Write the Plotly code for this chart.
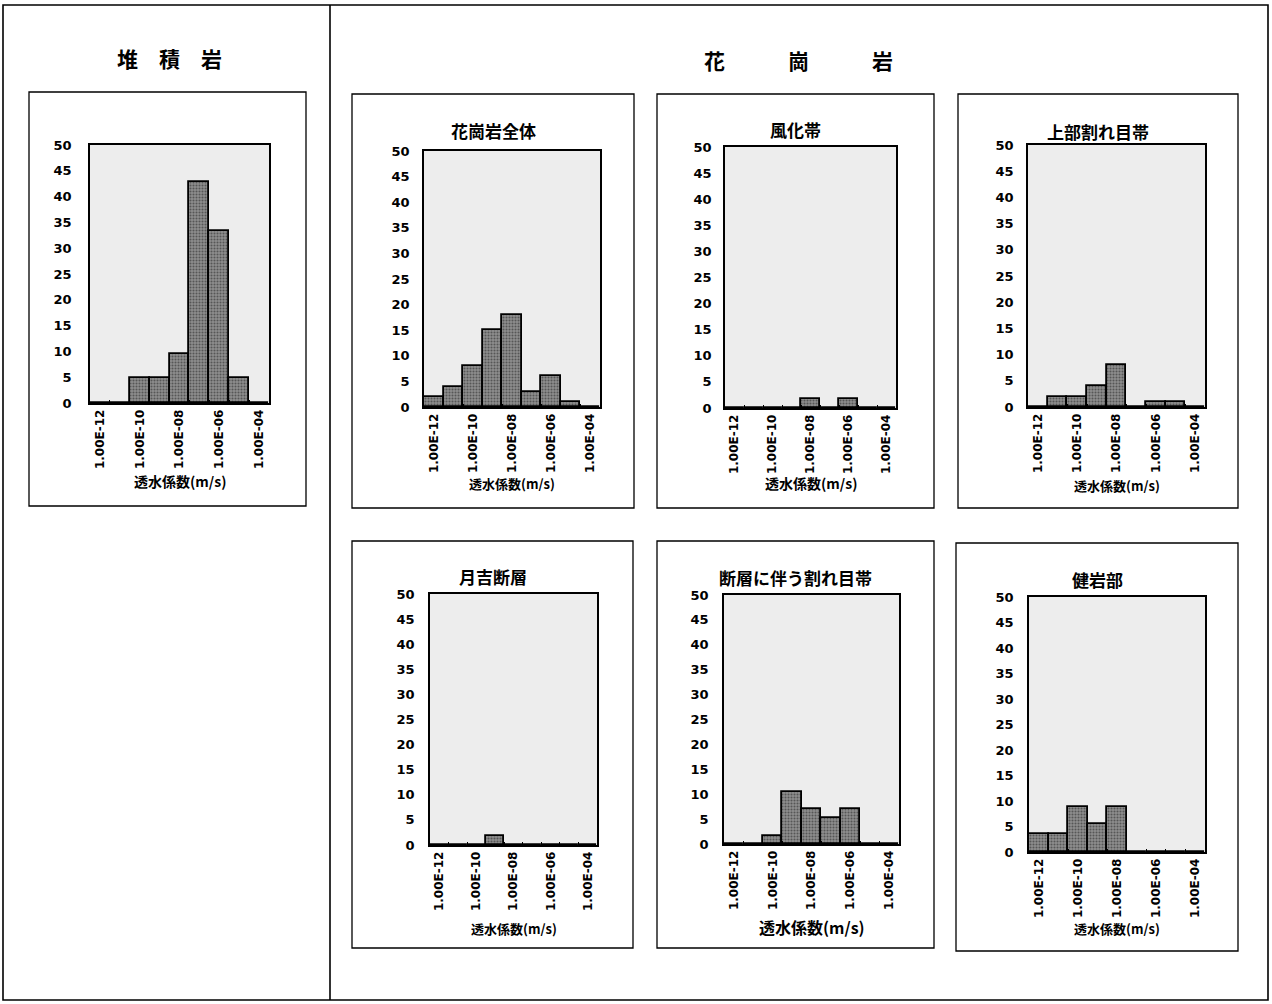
import plotly.graph_objects as go

# ---------------- data ----------------
categories = ["1.00E-12", "1.00E-11", "1.00E-10", "1.00E-09", "1.00E-08",
              "1.00E-07", "1.00E-06", "1.00E-05", "1.00E-04"]
sedimentary = [0, 0, 4.8, 4.8, 9.5, 42.9, 33.3, 4.8, 0]
granite_all = [2, 4, 8, 15, 18, 3, 6, 1, 0]
weathered = [0, 0, 0, 0, 1.8, 0, 1.8, 0, 0]
upper_fracture = [0, 2, 2, 4, 8, 0, 1, 1, 0]
tsukiyoshi_fault = [0, 0, 0, 1.8, 0, 0, 0, 0, 0]
fault_fracture = [0, 0, 1.7, 10.5, 7, 5.3, 7, 0, 0]
intact = [3.6, 3.6, 8.9, 5.4, 8.9, 0, 0, 0, 0]

group_titles = ["堆　積　岩", "花　　　崗　　　岩"]
chart_titles = ["", "花崗岩全体", "風化帯", "上部割れ目帯", "月吉断層", "断層に伴う割れ目帯", "健岩部"]
series = [sedimentary, granite_all, weathered, upper_fracture, tsukiyoshi_fault, fault_fracture, intact]
x_title = "透水係数(m/s)"
y_ticks = list(range(0, 51, 5))

# ---------------- layout helpers ----------------
W, H = 1272, 1004
def px(x): return x / W
def py(y): return 1 - y / H

# plot area (x0,x1,y0,y1), chart box, title y, axis-title y, axis-title size, label standoff
layouts = [
    dict(plot=(90, 269, 145, 403), box=(29, 306, 92, 506), ty=None, aty=481, ats=14, so=14),
    dict(plot=(424, 600, 151, 407), box=(352, 634, 94, 508), ty=130, aty=483, ats=13, so=10),
    dict(plot=(725, 896, 147, 408), box=(657, 934, 94, 508), ty=129, aty=483, ats=14, so=9),
    dict(plot=(1028, 1205, 145, 407), box=(958, 1238, 94, 508), ty=131, aty=485, ats=13, so=10),
    dict(plot=(430, 597, 594, 845), box=(352, 633, 541, 948), ty=576, aty=928, ats=13, so=11),
    dict(plot=(724, 899, 595, 844), box=(657, 934, 541, 948), ty=577, aty=927, ats=16, so=11),
    dict(plot=(1029, 1205, 597, 852), box=(956, 1238, 543, 951), ty=579, aty=928, ats=13, so=11),
]

xtick_font = dict(family="DejaVu Sans", size=12, color="black", weight="bold")
ytick_font = dict(family="DejaVu Sans", size=13, color="black", weight="bold")
jp = "Noto Sans CJK JP"

fig = go.Figure()
layout_axes = {}
shapes = []
annotations = []

ticktext = [c if i % 2 == 0 else "" for i, c in enumerate(categories)]

for i, (vals, lay, title) in enumerate(zip(series, layouts, chart_titles), start=1):
    x0, x1, y0, y1 = lay["plot"]
    xa = "x" if i == 1 else f"x{i}"
    ya = "y" if i == 1 else f"y{i}"
    fig.add_trace(go.Bar(
        x=categories, y=vals, xaxis=xa, yaxis=ya, width=1,
        marker=dict(color="#7e7e7e",
                    line=dict(color="black", width=1.8),
                    pattern=dict(shape=".", fgcolor="#1e1e1e", bgcolor="#8e8e8e",
                                 size=3, solidity=0.4)),
        showlegend=False, hoverinfo="x+y"))
    xkey = "xaxis" if i == 1 else f"xaxis{i}"
    ykey = "yaxis" if i == 1 else f"yaxis{i}"
    layout_axes[xkey] = dict(
        domain=[px(x0), px(x1)], anchor=ya, type="category",
        categoryorder="array", categoryarray=categories,
        tickvals=categories, ticktext=ticktext, tickangle=-90,
        tickson="boundaries", ticks="inside", ticklen=3, tickcolor="black",
        tickfont=xtick_font, showgrid=False, zeroline=False,
        showline=True, linecolor="black", linewidth=1.6, mirror=True,
        range=[-0.5, len(categories) - 0.5], fixedrange=True)
    layout_axes[ykey] = dict(
        domain=[py(y1), py(y0)], anchor=xa, range=[0, 50],
        tickvals=y_ticks, ticks="", tickfont=ytick_font,
        ticklabelstandoff=lay["so"], showgrid=False, zeroline=False,
        showline=True, linecolor="black", linewidth=1.6, mirror=True,
        fixedrange=True)
    bx0, bx1, by0, by1 = lay["box"]
    shapes.append(dict(type="rect", xref="paper", yref="paper",
                       x0=px(bx0), x1=px(bx1), y0=py(by1), y1=py(by0),
                       line=dict(color="black", width=1.3), layer="below"))
    if title:
        annotations.append(dict(text=title, x=px((bx0 + bx1) / 2), y=py(lay["ty"]),
                                xref="paper", yref="paper", showarrow=False,
                                xanchor="center", yanchor="middle",
                                font=dict(family=jp, size=17, color="black", weight="bold")))
    annotations.append(dict(text=x_title, x=px((x0 + x1) / 2), y=py(lay["aty"]),
                            xref="paper", yref="paper", showarrow=False,
                            xanchor="center", yanchor="middle",
                            font=dict(family=jp, size=lay["ats"], color="black", weight="bold")))

# group titles
annotations.append(dict(text=group_titles[0], x=px(169), y=py(58), xref="paper", yref="paper",
                        showarrow=False, xanchor="center", yanchor="middle",
                        font=dict(family=jp, size=21, color="black", weight="bold")))
annotations.append(dict(text=group_titles[1], x=px(798), y=py(60), xref="paper", yref="paper",
                        showarrow=False, xanchor="center", yanchor="middle",
                        font=dict(family=jp, size=21, color="black", weight="bold")))

# outer frame and divider
shapes.append(dict(type="rect", xref="paper", yref="paper",
                   x0=px(3), x1=px(1268), y0=py(1000), y1=py(5),
                   line=dict(color="black", width=1.6), layer="below"))
shapes.append(dict(type="line", xref="paper", yref="paper",
                   x0=px(330), x1=px(330), y0=py(1000), y1=py(5),
                   line=dict(color="black", width=1.6), layer="below"))

fig.update_layout(
    width=W, height=H, margin=dict(l=0, r=0, t=0, b=0, autoexpand=False),
    paper_bgcolor="white", plot_bgcolor="#ededed",
    bargap=0, shapes=shapes, annotations=annotations,
    font=dict(family="DejaVu Sans", color="black"),
    **layout_axes)

fig.write_html("out.html", include_plotlyjs=True,
               config={"displayModeBar": False},
               post_script="document.body.style.margin='0';document.body.style.overflow='hidden';")
